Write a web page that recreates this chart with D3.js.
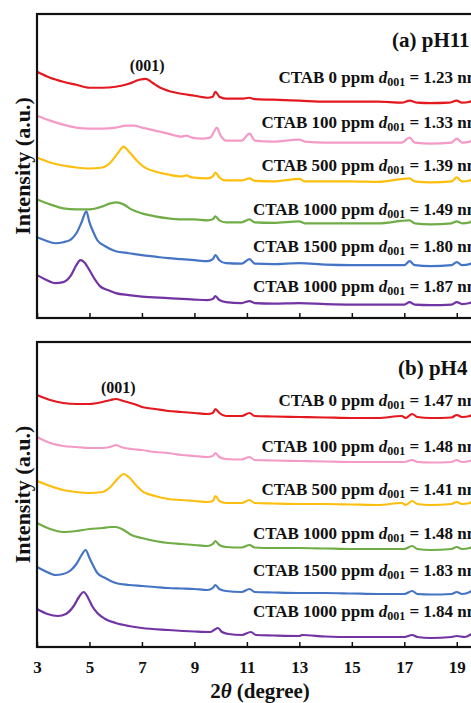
<!DOCTYPE html>
<html>
<head>
<meta charset="utf-8">
<script src="https://cdn.jsdelivr.net/npm/d3@7"></script>
<style>
    html, body { margin: 0; padding: 0; background: #fff; overflow: hidden; }
    svg text { font-family: "Liberation Serif", "Times New Roman", serif; font-weight: bold; fill: #111; }
</style>
</head>
<body>
<svg id="chart"></svg>
<script>
// 2theta tick values (degrees)
const twoThetaTicks = [3, 5, 7, 9, 11, 13, 15, 17, 19];

// Series colours, top to bottom
const seriesColors = ['#e3191f', '#f39bc6', '#fdbf0f', '#71ad47', '#4674c5', '#7233a3'];

// Panel (a) pH11 labels
const labelsA = ['0 ppm', '100 ppm', '500 ppm', '1000 ppm', '1500 ppm', '1000 ppm'];
const spacingA = ['1.23', '1.33', '1.39', '1.49', '1.80', '1.87'];

// Panel (b) pH4 labels
const labelsB = ['0 ppm', '100 ppm', '500 ppm', '1000 ppm', '1500 ppm', '1000 ppm'];
const spacingB = ['1.47', '1.48', '1.41', '1.48', '1.83', '1.84'];

// Panel (a) patterns: [2theta, intensity (a.u., offset stacked)]
const pH11_0 = [[3,247],[3.5,241],[4,237],[4.5,234],[5,231],[5.5,231],[6,232],[6.5,235],[6.9,239],[7.15,240],[7.4,236],[7.7,231],[8,228],[8.5,225],[9,223],[9.5,221],[9.7,222],[9.8,227],[9.95,222],[10.2,220],[10.8,220],[11.1,221],[11.3,219.5],[12,219],[13,218],[14,217],[15,217],[16,217],[16.9,216],[17.2,218],[17.5,216],[18,215.5],[18.7,216],[19,218],[19.2,216],[19.5,217],[19.7,222],[19.85,228],[20,230]];
const pH11_100 = [[3,203],[3.5,198],[4,194],[4.5,191],[5,190],[5.5,190],[6,191],[6.4,193],[6.7,193],[7,191],[7.5,188],[8,185],[8.5,182],[8.7,183],[8.9,181],[9.3,180],[9.6,181],[9.75,187],[9.85,191],[10,183],[10.2,178],[10.8,178],[11.1,185],[11.3,178],[12,177],[13,179],[13.2,177],[14,176],[15,176],[16,176],[16.9,176],[17.2,181],[17.4,176],[18,175],[18.8,176],[19,180],[19.2,176],[19.5,177],[19.7,183],[19.85,190],[20,192]];
const pH11_500 = [[3,161],[3.5,156],[4,153],[4.5,151],[5,150],[5.5,151],[5.8,156],[6.1,166],[6.3,172],[6.5,167],[6.8,158],[7,153],[7.5,147],[8,144],[8.5,142],[8.7,143],[8.9,141],[9.5,140],[9.7,142],[9.8,146],[9.95,141],[10.2,138],[10.8,138],[11.1,140],[11.3,137.5],[12,137],[13,139.5],[13.2,137],[14,137],[15,137],[16,136.5],[17.2,140],[17.4,137],[18,136],[18.8,137],[19,141],[19.2,137],[19.5,138],[19.7,144],[19.85,150],[20,152]];
const pH11_1000 = [[3,119],[3.5,114],[4,110],[4.5,109],[5,109],[5.5,112],[5.8,115],[6.04,116],[6.3,114],[6.6,109],[7,105],[7.5,102],[8,100],[8.5,99],[9,99],[9.5,98],[9.7,99],[9.8,102],[9.95,98],[10.2,96],[10.8,96],[11.1,99],[11.3,96],[12,95.5],[13,97],[13.2,95],[14,95],[15,95],[16,95],[17.2,98],[17.4,95],[18,94],[18.8,95],[19,97],[19.2,95],[19.5,96],[19.7,102],[19.85,107],[20,109]];
const pH11_1500 = [[3,81],[3.3,78],[3.7,75],[4,76],[4.3,79],[4.5,85],[4.7,96],[4.88,107],[5,96],[5.15,86],[5.3,78],[5.6,72],[6,67],[6.5,65],[7,63],[7.5,61.5],[8,60],[8.5,59],[9,58],[9.5,57],[9.7,59],[9.8,63],[9.95,58],[10.2,55],[10.8,54.5],[11.1,59],[11.3,54.5],[12,54],[13,55],[14,53.5],[15,53],[16,53],[17,53],[17.2,57],[17.4,53],[18,52],[18.8,53],[19,56],[19.2,53],[19.5,54],[19.7,62],[19.85,68],[20,70]];
const pH11_1000b = [[3,43],[3.3,39],[3.7,35],[4,36],[4.3,43],[4.5,53],[4.65,58],[4.8,56],[5,48],[5.2,39],[5.4,32],[5.7,28],[6,25],[6.5,23],[7,21.5],[8,20],[9,18.5],[9.5,18],[9.7,19],[9.8,22],[9.95,18],[10.2,16],[10.8,15],[11.1,17],[11.3,15],[12,14.5],[13,15],[14,14],[15,13.5],[16,13.5],[17,13.5],[17.2,16],[17.4,13.5],[18,13],[18.8,13.5],[19,16],[19.2,14],[19.5,15],[19.7,20],[19.85,25],[20,27]];

// Panel (b) patterns
const pH4_0 = [[3,252],[3.5,247],[4,244],[4.5,243],[5,243],[5.5,245],[5.8,247],[6,248],[6.3,246],[6.7,243],[7,240],[7.5,238],[8,236],[8.5,235],[9,234],[9.5,233],[9.7,234],[9.8,238],[9.95,234],[10.2,231],[10.8,231],[11.1,234],[11.3,231],[12,230.5],[13,230],[14,229.5],[15,229],[16,229],[16.9,231],[17.05,229],[17.3,233],[17.5,230],[18,229],[18.8,229.5],[19,232],[19.2,230],[19.5,231],[19.7,236],[19.85,242],[20,244]];
const pH4_100 = [[3,210],[3.5,204],[4,201],[4.5,200],[5,199],[5.5,199],[5.9,201],[6,202],[6.2,200],[6.6,198],[7,197],[7.5,195],[8,194],[8.5,192],[9,191],[9.5,190],[9.7,191],[9.8,194],[9.95,190],[10.2,188],[10.8,187.5],[11.1,190],[11.3,187],[12,186.5],[13,186],[14,185.5],[15,185],[16,185],[17,185],[17.3,187],[17.5,185],[18,184.5],[18.8,185],[19,187],[19.2,185],[19.5,186],[19.7,191],[19.85,196],[20,198]];
const pH4_500 = [[3,166],[3.5,161],[4,157],[4.5,155],[5,154],[5.5,155],[5.8,160],[6.1,169],[6.3,173],[6.5,170],[6.8,161],[7,156],[7.5,151],[8,148],[8.5,147],[9,146],[9.5,145],[9.7,146],[9.8,151],[9.95,146],[10.2,144],[10.8,144],[11.1,147],[11.3,144],[12,143.5],[13,143],[14,143],[15,142.5],[16,142],[16.9,144],[17.05,142],[17.3,146],[17.5,143],[18,142],[18.8,143],[19,145],[19.2,143],[19.5,144],[19.7,149],[19.85,155],[20,157]];
const pH4_1000 = [[3,124],[3.5,118],[4,115],[4.5,116],[5,118],[5.5,119],[5.8,120],[6,120],[6.3,117],[6.6,112],[7,109],[7.5,106],[8,104],[8.5,103],[9,102],[9.5,101],[9.7,103],[9.8,106],[9.95,102],[10.2,100],[10.8,99.5],[11.1,102],[11.3,99.5],[12,99],[13,99],[14,98.5],[15,98],[16,98],[17,98],[17.3,101],[17.5,98],[18,97],[18.8,98],[19,100],[19.2,98],[19.5,99],[19.7,104],[19.85,110],[20,112]];
const pH4_1500 = [[3,80],[3.3,76],[3.7,72],[4,73],[4.3,77],[4.5,83],[4.7,92],[4.85,97],[5,89],[5.15,81],[5.3,74],[5.6,69],[6,64],[6.5,62],[7,61],[7.5,60],[8,59],[8.5,58.5],[9,58],[9.5,57],[9.7,59],[9.8,62],[9.95,58],[10.2,56],[10.8,55],[11.1,58],[11.3,55],[12,54.5],[13,54],[14,54],[15,53.5],[16,53],[17,53],[17.3,56],[17.5,53],[18,52.5],[18.8,53],[19,55],[19.2,53],[19.5,55],[19.7,61],[19.85,67],[20,69]];
const pH4_1000b = [[3,38],[3.4,33],[3.8,31],[4.1,33],[4.4,41],[4.6,50],[4.78,55],[4.95,49],[5.1,41],[5.3,34],[5.6,28],[6,24],[6.5,21],[7,19],[8,17],[9,15.5],[9.6,15],[9.75,17],[9.9,19],[10.05,15],[10.3,13],[10.8,12],[11.15,15],[11.35,12],[12,11.5],[13,11],[13.1,12],[14,10.5],[15,10],[16,10],[17,10],[17.3,12],[17.5,10],[18,9],[18.8,10],[19,11],[19.3,10],[19.5,12],[19.7,16],[19.85,20],[20,22]];

const width = 471;
const height = 703;

const svg = d3.select('#chart')
    .attr('width', width)
    .attr('height', height);

const x = d3.scaleLinear()
    .domain([3, 20])
    .range([37, 483]);

function drawPanel(opts) {
    const y = d3.scaleLinear()
        .domain([0, 305])
        .range([opts.bottom, opts.top]);

    const g = svg.append('g');

    // patterns
    opts.series.forEach((data, i) => {
        g.append('path')
            .datum(data)
            .attr('fill', 'none')
            .attr('stroke', seriesColors[i])
            .attr('stroke-width', 2.2)
            .attr('stroke-linejoin', 'round')
            .attr('d', d3.line()
                .x(d => x(d[0]))
                .y(d => y(d[1]))
                .curve(d3.curveMonotoneX));
    });

    // bottom axis, ticks pointing inwards
    const axis = d3.axisBottom(x)
        .tickValues(twoThetaTicks)
        .tickSizeInner(-5)
        .tickSizeOuter(0)
        .tickPadding(opts.showLabels ? 14 : 0)
        .tickFormat(opts.showLabels ? d3.format('d') : () => '');

    const ax = g.append('g')
        .attr('transform', `translate(0, ${opts.bottom})`)
        .call(axis);
    ax.select('.domain').remove();
    ax.selectAll('line').attr('stroke', '#111').attr('stroke-width', 1.5);
    ax.selectAll('text')
        .attr('fill', '#111')
        .style('font-size', '17px')
        .style('font-family', '"Liberation Serif", serif')
        .style('font-weight', 'bold');

    // frame
    g.append('rect')
        .attr('x', x(3))
        .attr('y', opts.top)
        .attr('width', 470)
        .attr('height', opts.bottom - opts.top)
        .attr('fill', 'none')
        .attr('stroke', '#111')
        .attr('stroke-width', 2.2);

    // sample labels, right-aligned
    opts.labels.forEach((lab, i) => {
        const t = g.append('text')
            .attr('x', 481)
            .attr('y', opts.labelY[i])
            .attr('text-anchor', 'end')
            .style('font-size', '17px');
        t.append('tspan').text(`CTAB ${lab} `);
        t.append('tspan').style('font-style', 'italic').text('d');
        t.append('tspan').attr('dy', 3).style('font-size', '12px').text('001');
        t.append('tspan').attr('dy', -3).text(` = ${opts.spacing[i]} nm`);
    });

    // panel title
    g.append('text')
        .attr('x', opts.titleX)
        .attr('y', opts.top + 33)
        .style('font-size', '21px')
        .text(opts.title);

    // (001) reflection label
    g.append('text')
        .attr('x', x(opts.peakAt))
        .attr('y', opts.peakLabelY)
        .attr('text-anchor', 'middle')
        .style('font-size', '16px')
        .text('(001)');

    // y axis title
    g.append('text')
        .attr('transform', `translate(30, ${(opts.top + opts.bottom) / 2}) rotate(-90)`)
        .attr('text-anchor', 'middle')
        .style('font-size', '22px')
        .text('Intensity (a.u.)');
}

drawPanel({
    top: 14,
    bottom: 318,
    series: [pH11_0, pH11_100, pH11_500, pH11_1000, pH11_1500, pH11_1000b],
    labels: labelsA,
    spacing: spacingA,
    labelY: [83, 128, 171, 215, 252, 292],
    title: '(a) pH11',
    titleX: 392,
    peakAt: 7.2,
    peakLabelY: 71,
    showLabels: false
});

drawPanel({
    top: 342,
    bottom: 647,
    series: [pH4_0, pH4_100, pH4_500, pH4_1000, pH4_1500, pH4_1000b],
    labels: labelsB,
    spacing: spacingB,
    labelY: [406, 452, 495, 539, 576, 617],
    title: '(b) pH4',
    titleX: 398,
    peakAt: 6.1,
    peakLabelY: 393,
    showLabels: true
});

// x axis title
const xt = svg.append('text')
    .attr('x', x(11.5))
    .attr('y', 698)
    .attr('text-anchor', 'middle')
    .style('font-size', '21px');
xt.append('tspan').text('2');
xt.append('tspan').style('font-style', 'italic').text('θ');
xt.append('tspan').text(' (degree)');
</script>
</body>
</html>
